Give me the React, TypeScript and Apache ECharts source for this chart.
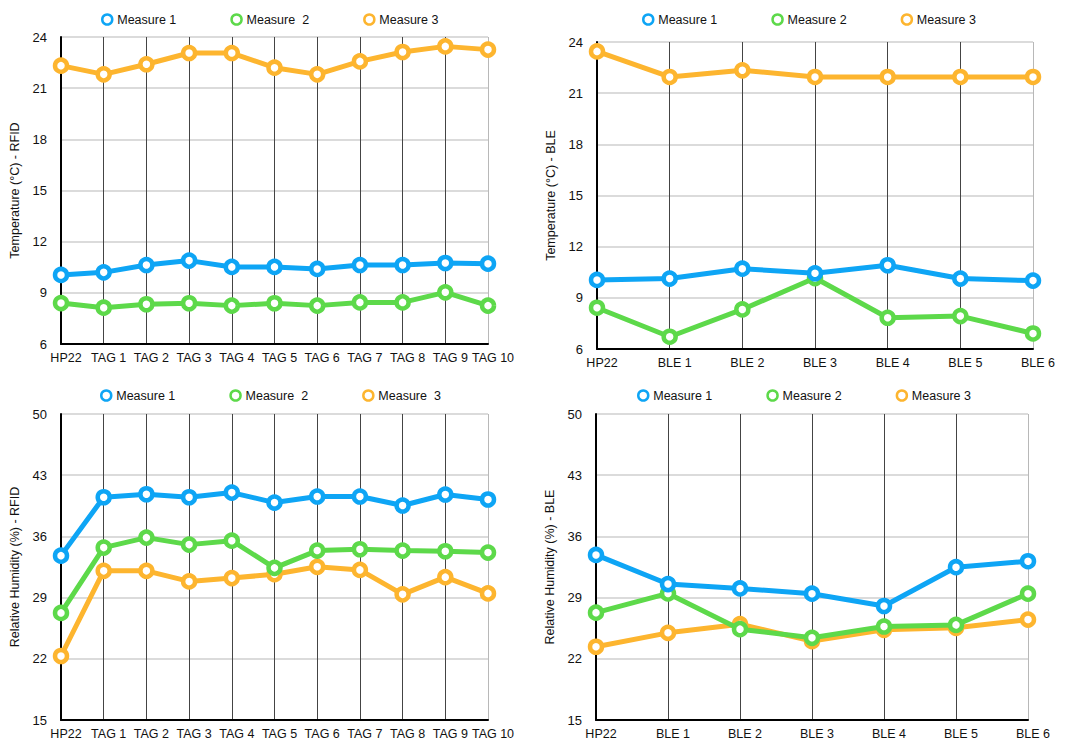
import React, { useEffect, useRef } from "react";
import * as echarts from "echarts";

// ---- categories ----
const rfidCats = ["HP22", "TAG 1", "TAG 2", "TAG 3", "TAG 4", "TAG 5", "TAG 6", "TAG 7", "TAG 8", "TAG 9", "TAG 10"];
const bleCats = ["HP22", "BLE 1", "BLE 2", "BLE 3", "BLE 4", "BLE 5", "BLE 6"];

// ---- Temperature RFID ----
const tempRfidM1 = [10.05, 10.2, 10.63, 10.89, 10.52, 10.52, 10.4, 10.63, 10.63, 10.75, 10.71];
const tempRfidM2 = [8.4, 8.13, 8.33, 8.39, 8.25, 8.39, 8.25, 8.44, 8.44, 9.03, 8.25];
const tempRfidM3 = [22.32, 21.81, 22.4, 23.06, 23.06, 22.2, 21.81, 22.57, 23.12, 23.45, 23.26];

// ---- Temperature BLE ----
const tempBleM1 = [10.05, 10.13, 10.71, 10.44, 10.91, 10.13, 10.01];
const tempBleM2 = [8.42, 6.72, 8.32, 10.16, 7.83, 7.93, 6.91];
const tempBleM3 = [23.45, 21.95, 22.34, 21.95, 21.95, 21.95, 21.95];

// ---- Humidity RFID ----
const humRfidM1 = [33.8, 40.48, 40.82, 40.48, 41.01, 39.87, 40.56, 40.56, 39.53, 40.79, 40.22];
const humRfidM2 = [27.25, 34.72, 35.86, 35.06, 35.51, 32.4, 34.38, 34.53, 34.38, 34.3, 34.15];
const humRfidM3 = [22.32, 32.06, 32.06, 30.85, 31.23, 31.68, 32.52, 32.17, 29.37, 31.34, 29.48];

// ---- Humidity BLE ----
const humBleM1 = [33.88, 30.55, 30.05, 29.45, 28.04, 32.48, 33.16];
const humBleM2 = [27.28, 29.48, 25.39, 24.4, 25.69, 25.88, 29.45];
const humBleM3 = [23.38, 24.97, 25.96, 24.02, 25.31, 25.54, 26.49];

// ---- legend names ----
const namesTL = ["Measure 1", "Measure  2", "Measure 3"];
const namesTR = ["Measure 1", "Measure 2", "Measure 3"];
const namesBL = ["Measure 1", "Measure  2", "Measure  3"];
const namesBR = ["Measure 1", "Measure 2", "Measure 3"];

const COLORS = ["#0ea5f5", "#5dd94a", "#fdb52f"];
const FONT = "'Liberation Sans', Arial, Helvetica, sans-serif";

function buildOption(p: {
  cats: string[];
  series: number[][];
  names: string[];
  yName: string;
  min: number;
  max: number;
  interval: number;
  grid: { left: number; right: number; top: number; bottom: number };
  legendLeft: number;
  legendTop: number;
}) {
  const vColors = p.cats.map((_, i) => (i === p.cats.length - 1 ? "#b8b8b8" : "#444"));
  const order = [2, 1, 0];
  return {
    animation: false,
    textStyle: { fontFamily: FONT },
    grid: { ...p.grid, containLabel: false },
    legend: {
      left: p.legendLeft,
      top: p.legendTop,
      itemWidth: 10,
      itemHeight: 10,
      itemGap: 54,
      data: p.names.map((n) => ({ name: n, icon: "circle" })),
      itemStyle: { borderWidth: 2.5, color: "#fff" },
      textStyle: { fontFamily: FONT, fontSize: 12.5, color: "#111" },
    },
    xAxis: {
      type: "category",
      data: p.cats,
      boundaryGap: false,
      axisLine: { show: true, lineStyle: { color: "#000", width: 2 } },
      axisTick: { show: false },
      axisLabel: {
        interval: 0,
        margin: 7,
        fontFamily: FONT,
        fontSize: 12.5,
        color: "#111",
        padding: [0, 0, 0, 10],
      },
      splitLine: { show: true, interval: 0, lineStyle: { color: vColors, width: 1 } },
    },
    yAxis: {
      type: "value",
      min: p.min,
      max: p.max,
      interval: p.interval,
      name: p.yName,
      nameLocation: "middle",
      nameGap: 40,
      nameTextStyle: { fontFamily: FONT, fontSize: 12.5, color: "#111" },
      axisLine: { show: true, lineStyle: { color: "#000", width: 2 } },
      axisTick: { show: false },
      axisLabel: { margin: 14, fontFamily: FONT, fontSize: 13, color: "#111" },
      splitLine: { show: true, lineStyle: { color: "#cfcfcf", width: 1.5 } },
    },
    series: order.map((i) => ({
      type: "line",
      name: p.names[i],
      data: p.series[i],
      symbol: "circle",
      symbolSize: 12,
      showAllSymbol: true,
      lineStyle: { width: 5, color: COLORS[i] },
      itemStyle: { color: "#fff", borderColor: COLORS[i], borderWidth: 4.5 },
      z: 3 - i,
    })),
  };
}

function Chart({ option, style }: { option: any; style: React.CSSProperties }) {
  const ref = useRef<HTMLDivElement>(null);
  useEffect(() => {
    if (!ref.current) return;
    const chart = echarts.init(ref.current, undefined, { renderer: "svg" });
    chart.setOption(option);
    return () => chart.dispose();
  }, [option]);
  return <div ref={ref} style={{ position: "absolute", ...style }} />;
}

const optTL = buildOption({
  cats: rfidCats,
  series: [tempRfidM1, tempRfidM2, tempRfidM3],
  names: namesTL,
  yName: "Temperature (°C) - RFID",
  min: 6,
  max: 24,
  interval: 3,
  grid: { left: 57, right: 47, top: 37, bottom: 26 },
  legendLeft: 96,
  legendTop: 8,
});
const optTR = buildOption({
  cats: bleCats,
  series: [tempBleM1, tempBleM2, tempBleM3],
  names: namesTR,
  yName: "Temperature (°C) - BLE",
  min: 6,
  max: 24,
  interval: 3,
  grid: { left: 62, right: 36, top: 42, bottom: 21 },
  legendLeft: 102,
  legendTop: 8,
});
const optBL = buildOption({
  cats: rfidCats,
  series: [humRfidM1, humRfidM2, humRfidM3],
  names: namesBL,
  yName: "Relative Humidity (%) - RFID",
  min: 15,
  max: 50,
  interval: 7,
  grid: { left: 57, right: 47, top: 44, bottom: 18 },
  legendLeft: 95,
  legendTop: 14,
});
const optBR = buildOption({
  cats: bleCats,
  series: [humBleM1, humBleM2, humBleM3],
  names: namesBR,
  yName: "Relative Humidity (%) - BLE",
  min: 15,
  max: 50,
  interval: 7,
  grid: { left: 57, right: 41, top: 44, bottom: 18 },
  legendLeft: 97,
  legendTop: 14,
});

export default function App() {
  return (
    <div style={{ position: "absolute", left: 0, top: 0, width: 1069, height: 740, background: "#fff" }}>
      <Chart option={optTL} style={{ left: 0, top: 0, width: 535, height: 370 }} />
      <Chart option={optTR} style={{ left: 535, top: 0, width: 534, height: 370 }} />
      <Chart option={optBL} style={{ left: 0, top: 370, width: 535, height: 370 }} />
      <Chart option={optBR} style={{ left: 535, top: 370, width: 534, height: 370 }} />
    </div>
  );
}
